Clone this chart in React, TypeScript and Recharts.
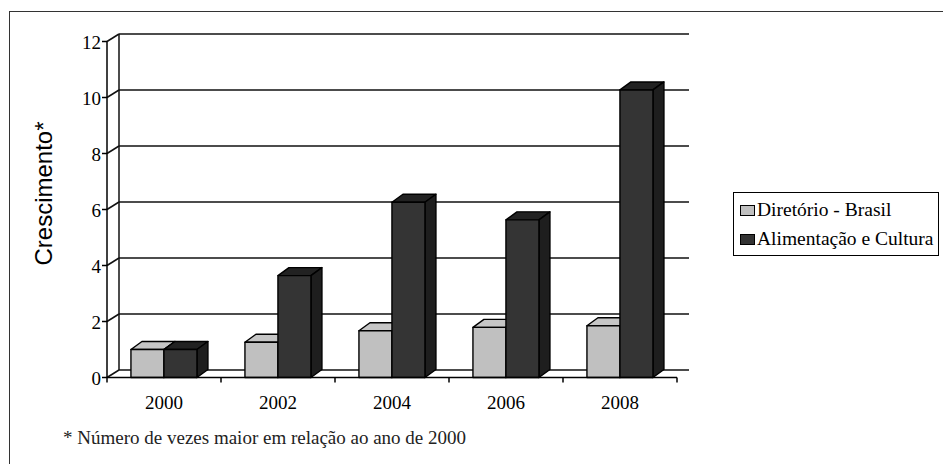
import { BarChart, Bar, XAxis, YAxis, CartesianGrid, Legend, Label } from 'recharts'

const years = ['2000', '2002', '2004', '2006', '2008']
const diretorioBrasil = [1.0, 1.26, 1.67, 1.79, 1.85]
const alimentacaoCultura = [1.0, 3.64, 6.26, 5.63, 10.27]
const yTicks = [0, 2, 4, 6, 8, 10, 12]
const seriesNames = ['Diretório - Brasil', 'Alimentação e Cultura']
const seriesColors = ['#c0c0c0', '#333333']

const data = years.map((year, i) => ({
  year,
  diretorio: diretorioBrasil[i],
  alimentacao: alimentacaoCultura[i],
}))

// depth offsets for the fake 3d look
const WALL_DX = 12
const WALL_DY = -7.5
const BAR_DX = 11
const BAR_DY = -8

const serif = "'Liberation Serif', 'Times New Roman', 'DejaVu Serif', serif"

function makeBox(front: string, top: string, side: string) {
  return (p: any) => {
    const { x, y, width: w, height: h } = p
    if (w == null || h == null) return <g />
    return (
      <g stroke="#000" strokeWidth={1.4} strokeLinejoin="round">
        <polygon
          fill={top}
          points={`${x},${y} ${x + BAR_DX},${y + BAR_DY} ${x + w + BAR_DX},${y + BAR_DY} ${x + w},${y}`}
        />
        <polygon
          fill={side}
          points={`${x + w},${y} ${x + w + BAR_DX},${y + BAR_DY} ${x + w + BAR_DX},${y + h + BAR_DY} ${x + w},${y + h}`}
        />
        <rect x={x} y={y} width={w} height={h} fill={front} />
      </g>
    )
  }
}

const lightBox = makeBox('#c0c0c0', '#c6c6c6', '#9a9a9a')
const darkBox = makeBox('#343434', '#222222', '#1e1e1e')

const wallLine = (p: any) => {
  const { x1, x2, y1, index } = p
  const top = p.y
  const bottom = p.y + p.height
  return (
    <g key={`wall-${index}`} stroke="#111" strokeWidth={1.5}>
      <line x1={x1} y1={y1} x2={x1 + WALL_DX} y2={y1 + WALL_DY} />
      <line x1={x1 + WALL_DX} y1={y1 + WALL_DY} x2={x2 + WALL_DX} y2={y1 + WALL_DY} />
      {index === 0 && (
        <line x1={x1 + WALL_DX} y1={top + WALL_DY} x2={x1 + WALL_DX} y2={bottom + WALL_DY} />
      )}
    </g>
  )
}

const renderXTick = (p: any) => {
  const { x, y, payload, index } = p
  const half = payload && payload.offset > 0 ? payload.offset : 57
  const axisY = y - 5
  return (
    <g>
      <line x1={x - half} y1={axisY} x2={x - half} y2={axisY + 5} stroke="#000" strokeWidth={1.5} />
      {index === years.length - 1 && (
        <line x1={x + half} y1={axisY} x2={x + half} y2={axisY + 5} stroke="#000" strokeWidth={1.5} />
      )}
      <text x={x} y={axisY + 31} textAnchor="middle" fontFamily={serif} fontSize={19} fill="#000">
        {payload.value}
      </text>
    </g>
  )
}

const renderYTick = (p: any) => (
  <text x={p.x} y={p.y + 7.5} textAnchor="end" fontFamily={serif} fontSize={19} fill="#000">
    {p.payload.value}
  </text>
)

const renderYLabel = (p: any) => (
  <text
    x={52}
    y={193.5}
    transform="rotate(-90 52 193.5)"
    textAnchor="middle"
    fontFamily="'Liberation Sans', Arial, sans-serif"
    fontSize={24}
    fill="#000"
  >
    {p.value}
  </text>
)

const LegendBox = () => (
  <div
    style={{
      border: '1.5px solid #000',
      padding: '2px 0 2px 6px',
      background: '#fff',
      fontFamily: serif,
      fontSize: 19.5,
      lineHeight: '29px',
      color: '#000',
      boxSizing: 'border-box',
      width: 206,
      textAlign: 'left',
    }}
  >
    {seriesNames.map((name, i) => (
      <div key={name} style={{ whiteSpace: 'nowrap' }}>
        <span
          style={{
            display: 'inline-block',
            width: 13,
            height: 9,
            background: seriesColors[i],
            border: '1px solid #000',
            marginRight: 2,
          }}
        />
        {name}
      </div>
    ))}
  </div>
)

export default function App() {
  return (
    <div
      style={{
        position: 'absolute',
        left: 0,
        top: 0,
        width: 943,
        height: 464,
        overflow: 'hidden',
        background: '#fff',
      }}
    >
      <div
        style={{
          position: 'absolute',
          left: 8.5,
          top: 10.5,
          width: 1000,
          height: 1000,
          border: '1.5px solid #333',
        }}
      />
      <div style={{ position: 'absolute', left: 0, top: 0 }}>
        <BarChart
          width={943}
          height={464}
          data={data}
          margin={{ top: 41.5, right: 266, bottom: 56.5, left: 47 }}
          barCategoryGap="21%"
          barGap={0}
        >
          <CartesianGrid horizontal={wallLine} vertical={false} />
          <XAxis
            dataKey="year"
            height={30}
            interval={0}
            tickSize={5}
            tickMargin={0}
            tickLine={false}
            axisLine={{ stroke: '#000', strokeWidth: 1.5 }}
            tick={renderXTick}
          />
          <YAxis
            width={60}
            domain={[0, 12]}
            ticks={yTicks}
            interval={0}
            tickSize={5}
            tickMargin={1}
            tickLine={{ stroke: '#000', strokeWidth: 1.5 }}
            axisLine={{ stroke: '#000', strokeWidth: 1.5 }}
            tick={renderYTick}
          >
            <Label value="Crescimento*" content={renderYLabel} />
          </YAxis>
          <Legend
            layout="vertical"
            align="center"
            verticalAlign="middle"
            wrapperStyle={{ left: 733, top: 192, width: 206 }}
            content={LegendBox}
          />
          <Bar dataKey="diretorio" name={seriesNames[0]} fill={seriesColors[0]} shape={lightBox} isAnimationActive={false} />
          <Bar dataKey="alimentacao" name={seriesNames[1]} fill={seriesColors[1]} shape={darkBox} isAnimationActive={false} />
        </BarChart>
      </div>
      <div
        style={{
          position: 'absolute',
          left: 63,
          top: 428,
          fontFamily: serif,
          fontSize: 19,
          lineHeight: '19px',
          color: '#222',
          whiteSpace: 'nowrap',
        }}
      >
        * Número de vezes maior em relação ao ano de 2000
      </div>
    </div>
  )
}
